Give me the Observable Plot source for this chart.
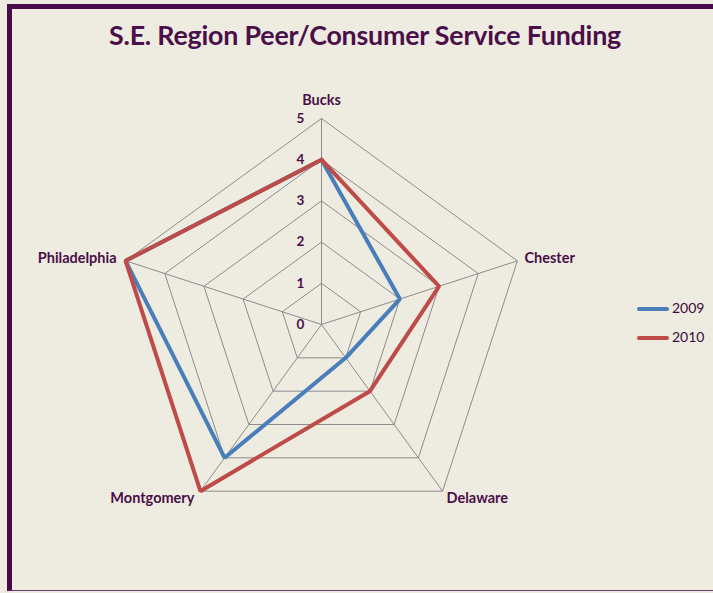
<!DOCTYPE html>
<html>
<head>
<meta charset="utf-8">
<script src="https://cdn.jsdelivr.net/npm/d3@7"></script>
<script src="https://cdn.jsdelivr.net/npm/@observablehq/plot@0.6"></script>
<style>
  html, body { margin: 0; padding: 0; background: #EEEBE0; overflow: hidden; }
  #wrap { position: relative; width: 713px; height: 593px; background: #EEEBE0; }
  #frame { position: absolute; left: 7px; top: 4px; width: 720px; height: 581px;
           border-left: 5px solid #4A0C49; border-top: 5px solid #4A0C49; border-bottom: 1.5px solid #6B3A6A; }
  #title { position: absolute; left: 0; width: 730px; top: 19px; text-align: center;
           font: bold 26.8px Lato, "Open Sans", sans-serif; color: #4A0F48; letter-spacing: -0.2px; }
  #chart { position: absolute; left: 0; top: 0; }
  .leg { position: absolute; font: 14px Lato, "Open Sans", sans-serif; color: #3A0B3A; }
  .leg span.ln { display: inline-block; width: 32px; height: 4px; border-radius: 2px; vertical-align: middle; margin-right: 3px; }
</style>
</head>
<body>
<div id="wrap">
  <div id="frame"></div>
  <div id="title">S.E. Region Peer/Consumer Service Funding</div>
  <div id="chart"></div>
  <div id="legend"></div>
</div>
<script>
// ---- data ----
const categories = ["Bucks", "Chester", "Delaware", "Montgomery", "Philadelphia"];
const series = ["2009", "2010"];
const values2009 = [4, 2, 1, 4, 5];
const values2010 = [4, 3, 2, 5, 5];
const tickLabels = [0, 1, 2, 3, 4, 5];

const colors = {"2009": "#4A7EBB", "2010": "#BE4B48"};
const textColor = "#4A0F48";

// ---- geometry (polar -> cartesian in data units) ----
const n = categories.length;
const angle = i => (2 * Math.PI * i) / n;
const px = (r, i) => r * Math.sin(angle(i));
const py = (r, i) => r * Math.cos(angle(i));

const W = 713, H = 593;
const cx = 321, cy = 324, unit = 41.2;

// gridlines: pentagons for each level
const grid = [];
for (const lv of tickLabels.slice(1)) {
  for (let i = 0; i <= n; i++) grid.push({level: lv, x: px(lv, i % n), y: py(lv, i % n)});
}
const spokes = categories.map((c, i) => ({x1: 0, y1: 0, x2: px(5, i), y2: py(5, i)}));

const seriesData = [];
[["2009", values2009], ["2010", values2010]].forEach(([s, vals]) => {
  for (let i = 0; i <= n; i++) {
    const k = i % n;
    seriesData.push({series: s, cat: categories[k], x: px(vals[k], k), y: py(vals[k], k)});
  }
});

const labels = categories.map((c, i) => ({cat: c, x: px(5, i), y: py(5, i)}));
const ticks = tickLabels.map(t => ({t, x: 0, y: t}));

const font = "Lato, 'Open Sans', sans-serif";
const lab = (cat, opts) => Plot.text(labels.filter(d => d.cat === cat), {
  x: "x", y: "y", text: "cat", fill: textColor, fontWeight: "bold", fontSize: 14.5, fontFamily: font, ...opts
});

const chart = Plot.plot({
  width: W, height: H,
  marginTop: 0, marginBottom: 0, marginLeft: 0, marginRight: 0,
  style: {background: "transparent", overflow: "visible"},
  x: {domain: [-cx / unit, (W - cx) / unit], range: [0, W], axis: null},
  y: {domain: [-(H - cy) / unit, cy / unit], range: [H, 0], axis: null},
  marks: [
    Plot.line(grid, {x: "x", y: "y", z: "level", stroke: "#8E8A8E", strokeWidth: 1}),
    Plot.link(spokes, {x1: "x1", y1: "y1", x2: "x2", y2: "y2", stroke: "#8E8A8E", strokeWidth: 1}),
    Plot.line(seriesData.filter(d => d.series === "2009"), {x: "x", y: "y", stroke: colors["2009"], strokeWidth: 4, strokeLinejoin: "miter"}),
    Plot.line(seriesData.filter(d => d.series === "2010"), {x: "x", y: "y", stroke: colors["2010"], strokeWidth: 4, strokeLinejoin: "miter"}),
    Plot.text(ticks, {x: "x", y: "y", text: "t", dx: -21, fill: textColor, fontWeight: "bold", fontSize: 13.5, fontFamily: font, textAnchor: "middle"}),
    lab("Bucks", {dy: -18, textAnchor: "middle"}),
    lab("Chester", {dx: 7, dy: -2, textAnchor: "start"}),
    lab("Delaware", {dx: 4, dy: 7, textAnchor: "start"}),
    lab("Montgomery", {dx: -6, dy: 7, textAnchor: "end"}),
    lab("Philadelphia", {dx: -9, dy: -2, textAnchor: "end"})
  ]
});
document.getElementById("chart").appendChild(chart);

// legend
const legend = document.getElementById("legend");
series.forEach((s, i) => {
  const d = document.createElement("div");
  d.className = "leg";
  d.style.left = "637px";
  d.style.top = (299 + i * 29) + "px";
  d.innerHTML = `<span class="ln" style="background:${colors[s]}"></span>${s}`;
  legend.appendChild(d);
});
</script>
</body>
</html>
